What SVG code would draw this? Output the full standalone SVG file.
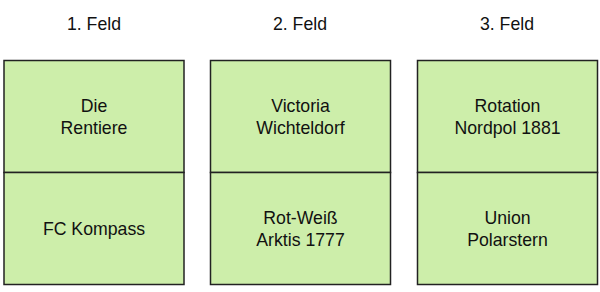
<svg xmlns="http://www.w3.org/2000/svg" width="600" height="292" viewBox="0 0 600 292">
<style>
.box{fill:#cdeeaa;stroke:#222;stroke-width:1.5}
text{font-family:"Liberation Sans",Arial,sans-serif;font-size:17.7px;fill:#111;text-anchor:middle}
</style>
<rect width="600" height="292" fill="#fff"/>
<g id="col1">
<text x="94" y="29.5">1. Feld</text>
<g id="n1"><rect class="box" x="4" y="60.5" width="180" height="112"/><text x="94" y="112">Die</text><text x="94" y="134">Rentiere</text></g>
<g id="n2"><rect class="box" x="4" y="172.5" width="180" height="112"/><text x="94" y="235">FC Kompass</text></g>
</g>
<g id="col2">
<text x="300" y="29.5">2. Feld</text>
<g id="n3"><rect class="box" x="210.5" y="60.5" width="180" height="112"/><text x="300.5" y="112">Victoria</text><text x="300.5" y="134">Wichteldorf</text></g>
<g id="n4"><rect class="box" x="210.5" y="172.5" width="180" height="112"/><text x="300.5" y="224">Rot-Weiß</text><text x="300.5" y="246">Arktis 1777</text></g>
</g>
<g id="col3">
<text x="507" y="29.5">3. Feld</text>
<g id="n5"><rect class="box" x="417.5" y="60.5" width="180" height="112"/><text x="507.5" y="112">Rotation</text><text x="507.5" y="134">Nordpol 1881</text></g>
<g id="n6"><rect class="box" x="417.5" y="172.5" width="180" height="112"/><text x="507.5" y="224">Union</text><text x="507.5" y="246">Polarstern</text></g>
</g>
<g id="connectors"/>
</svg>
